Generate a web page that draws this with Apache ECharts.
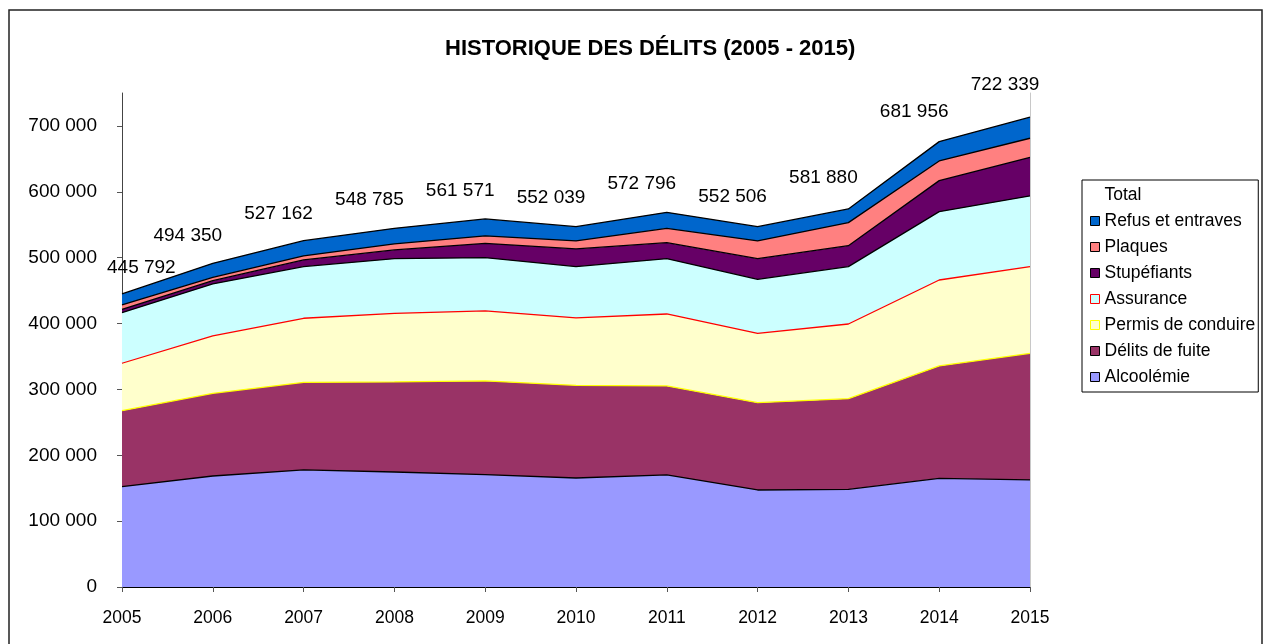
<!DOCTYPE html>
<html>
<head>
<meta charset="utf-8">
<title>Historique des délits</title>
<script src="https://cdn.jsdelivr.net/npm/echarts@6/dist/echarts.min.js"></script>
<style>
  html, body { margin: 0; padding: 0; background: #fff; }
  #chart { width: 1273px; height: 644px; }
</style>
</head>
<body>
<div id="chart"></div>
<script>
// données
const years = ['2005', '2006', '2007', '2008', '2009', '2010', '2011', '2012', '2013', '2014', '2015'];
const alcoolemie = [152300, 168500, 177700, 174600, 170600, 165500, 170100, 147300, 148300, 165000, 162500];
const delitsFuite = [115400, 125600, 133100, 136700, 142200, 140700, 135100, 132600, 137600, 170600, 192300];
const permis = [72000, 87000, 97200, 104200, 106300, 102300, 109300, 105300, 113400, 130500, 131600];
const assurance = [76800, 79000, 78400, 83000, 80900, 77900, 84000, 82000, 87100, 103800, 107300];
const stupefiants = [5100, 5000, 10100, 13200, 21800, 26800, 24300, 31300, 31800, 47100, 58700];
const plaques = [6600, 5100, 6100, 9100, 11200, 12200, 21800, 26900, 35000, 29800, 28900];
const refus = [16700, 21300, 23200, 23800, 25800, 21700, 24300, 21700, 20800, 29400, 31900];
const totals = [445792, 494350, 527162, 548785, 561571, 552039, 572796, 552506, 581880, 681956, 722339];
const yTicks = [0, 100000, 200000, 300000, 400000, 500000, 600000, 700000];

const FONT = '"Liberation Sans", Arial, sans-serif';

// format "700 000"
function fmt(v) {
  return String(v).replace(/\B(?=(\d{3})+(?!\d))/g, ' ');
}

// série empilée (aire)
function areaSeries(name, data, fill, edge) {
  return {
    name: name,
    type: 'line',
    stack: 'delits',
    data: data,
    symbol: 'none',
    silent: true,
    lineStyle: { color: edge, width: 1.3 },
    itemStyle: { color: fill },
    areaStyle: { color: fill, opacity: 1 }
  };
}

const chart = echarts.init(document.getElementById('chart'));

const option = {
  animation: false,
  textStyle: { fontFamily: FONT },
  title: {
    text: 'HISTORIQUE DES DÉLITS (2005 - 2015)',
    left: 440,
    top: 33,
    textStyle: { fontSize: 22, fontWeight: 'bold', color: '#000', fontFamily: FONT }
  },
  legend: {
    orient: 'vertical',
    left: 1082,
    top: 180,
    padding: [6, 3, 6, 8],
    itemGap: 8,
    itemWidth: 9,
    itemHeight: 9,
    icon: 'rect',
    borderColor: '#000',
    borderWidth: 1,
    backgroundColor: '#fff',
    textStyle: { fontSize: 17.5, color: '#000', fontFamily: FONT },
    data: [
      { name: 'Total', itemStyle: { color: 'rgba(0,0,0,0)', borderWidth: 0 } },
      { name: 'Refus et entraves', itemStyle: { color: '#0066CC', borderColor: '#000', borderWidth: 1 } },
      { name: 'Plaques', itemStyle: { color: '#FF8080', borderColor: '#000', borderWidth: 1 } },
      { name: 'Stupéfiants', itemStyle: { color: '#660066', borderColor: '#000', borderWidth: 1 } },
      { name: 'Assurance', itemStyle: { color: '#CCFFFF', borderColor: '#FF0000', borderWidth: 1 } },
      { name: 'Permis de conduire', itemStyle: { color: '#FFFFCC', borderColor: '#FFFF00', borderWidth: 1 } },
      { name: 'Délits de fuite', itemStyle: { color: '#993366', borderColor: '#000', borderWidth: 1 } },
      { name: 'Alcoolémie', itemStyle: { color: '#9999FF', borderColor: '#000', borderWidth: 1 } }
    ]
  },
  grid: {
    left: 122,
    right: 243,
    top: 93,
    bottom: 57
  },
  xAxis: {
    type: 'category',
    boundaryGap: false,
    data: years,
    axisLine: { lineStyle: { color: '#000', width: 1 } },
    axisTick: { length: 5, lineStyle: { color: '#555' } },
    axisLabel: { fontSize: 17.5, color: '#000', margin: 22, fontFamily: FONT }
  },
  yAxis: [
    {
      type: 'value',
      min: 0,
      max: 750000,
      interval: 50000,
      splitLine: { show: false },
      axisLine: { show: true, lineStyle: { color: '#444', width: 1 } },
      axisTick: { show: true, length: 5, customValues: yTicks, lineStyle: { color: '#555' } },
      axisLabel: {
        fontSize: 19,
        color: '#000',
        margin: 25,
        fontFamily: FONT,
        customValues: yTicks,
        formatter: fmt
      }
    },
    {
      type: 'value',
      min: 0,
      max: 750000,
      position: 'right',
      splitLine: { show: false },
      axisLine: { show: true, lineStyle: { color: '#c8c8c8', width: 1 } },
      axisTick: { show: false },
      axisLabel: { show: false }
    }
  ],
  graphic: [
    {
      type: 'rect',
      z: -10,
      silent: true,
      shape: { x: 9, y: 10, width: 1253, height: 700 },
      style: { fill: 'none', stroke: '#222', lineWidth: 1.5 }
    }
  ],
  series: [
    areaSeries('Alcoolémie', alcoolemie, '#9999FF', '#000'),
    areaSeries('Délits de fuite', delitsFuite, '#993366', '#FFFF00'),
    areaSeries('Permis de conduire', permis, '#FFFFCC', '#FF0000'),
    areaSeries('Assurance', assurance, '#CCFFFF', '#000'),
    areaSeries('Stupéfiants', stupefiants, '#660066', '#000'),
    areaSeries('Plaques', plaques, '#FF8080', '#000'),
    areaSeries('Refus et entraves', refus, '#0066CC', '#000'),
    {
      // total affiché au-dessus des aires
      name: 'Total',
      type: 'line',
      data: totals,
      symbol: 'circle',
      symbolSize: 1,
      showSymbol: true,
      silent: true,
      lineStyle: { opacity: 0 },
      itemStyle: { color: 'rgba(0,0,0,0)' },
      label: {
        show: true,
        position: 'top',
        distance: 16,
        fontSize: 19,
        color: '#000',
        fontFamily: FONT,
        formatter: function (p) { return fmt(p.value); }
      },
      // étiquettes décalées vers la gauche, sans sortir trop loin du graphique
      labelLayout: function (params) {
        const r = params.labelRect;
        let dx = -25;
        if (r.x + dx < 107) dx = 107 - r.x;
        return { dx: dx };
      },
      z: 5
    }
  ]
};

chart.setOption(option);
</script>
</body>
</html>
